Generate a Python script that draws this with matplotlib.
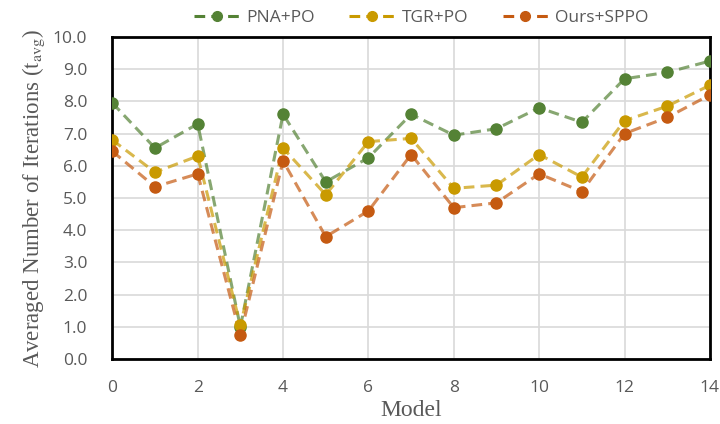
import matplotlib
matplotlib.use("Agg")
import matplotlib.pyplot as plt
import numpy as np

models = list(range(15))
pna_po = [7.95, 6.55, 7.3, 1.0, 7.6, 5.5, 6.25, 7.6, 6.95, 7.15, 7.8, 7.35, 8.7, 8.9, 9.25]
tgr_po = [6.8, 5.8, 6.3, 1.05, 6.55, 5.1, 6.75, 6.85, 5.3, 5.4, 6.35, 5.65, 7.4, 7.85, 8.5]
ours_sppo = [6.45, 5.35, 5.75, 0.75, 6.15, 3.8, 4.6, 6.35, 4.7, 4.85, 5.75, 5.2, 7.0, 7.5, 8.2]
labels = ['PNA+PO', 'TGR+PO', 'Ours+SPPO']
colors = ['#548235', '#C99A00', '#C55A11']

plt.rcParams['mathtext.fontset'] = 'stix'
fig = plt.figure(figsize=(7.2, 4.24), dpi=100)
ax = fig.add_axes([0.156, 0.153, 0.83, 0.76])

handles = []
for s, l, c in zip([pna_po, tgr_po, ours_sppo], labels, colors):
    ax.plot(models, s, linestyle=(0, (3.5, 2)), color=c, alpha=0.7, lw=2.2, zorder=2)
    ax.plot(models, s, linestyle='none', marker='o', ms=8, color=c, zorder=3)
    h, = ax.plot([], [], linestyle=(0, (3.5, 2)), color=c, lw=2.2, marker='o', ms=7,
                 markerfacecolor=c, markeredgecolor=c, label=l)
    handles.append(h)

ax.set_xlim(0, 14)
ax.set_ylim(0, 10)
ax.set_xticks(range(0, 15, 2))
ax.set_yticks(np.arange(0, 10.01, 1.0))
ax.set_yticklabels([f'{v:.1f}' for v in np.arange(0, 10.01, 1.0)])
ax.grid(True, color='#d9d9d9', lw=1.2, zorder=0)
ax.set_axisbelow(True)
for sp in ax.spines.values():
    sp.set_linewidth(2)
    sp.set_color('black')
ax.tick_params(length=0, labelsize=12.5, labelcolor='#595959')
ax.tick_params(axis='y', pad=18)
ax.tick_params(axis='x', pad=15)
for t in ax.get_xticklabels() + ax.get_yticklabels():
    t.set_family('Open Sans')
ax.set_xlabel('Model', family='Liberation Serif', fontsize=17, color='#595959')
ax.set_ylabel(r'Averaged Number of Iterations ($\mathrm{t}_{\mathrm{avg}}$)', family='Liberation Serif',
              fontsize=16.5, color='#595959')
ax.xaxis.set_label_coords(0.5, -0.127)
ax.yaxis.set_label_coords(-0.109, 0.5)

fig.legend(handles=handles, loc='center', bbox_to_anchor=(0.585, 0.958), ncol=3, frameon=False,
           prop={'family': 'Open Sans', 'size': 12.5}, handlelength=2.6, columnspacing=2.0,
           handletextpad=0.4, labelcolor='#595959')

fig.savefig('out.png', dpi=100)
